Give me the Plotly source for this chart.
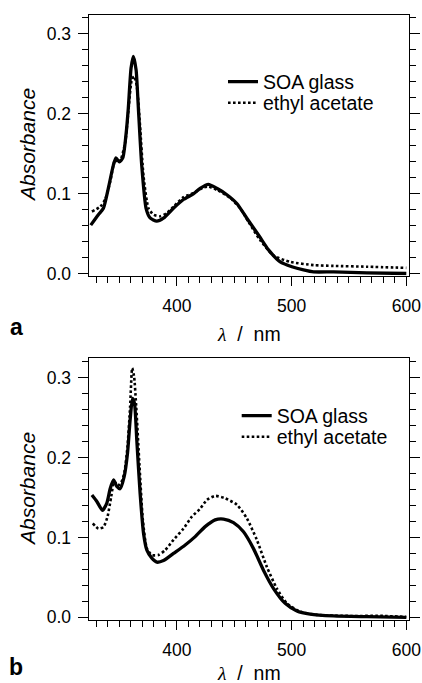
import plotly.graph_objects as go

# ---- Panel a data ----
a_soa_x = [325, 331.6, 336, 340.3, 344.7, 347, 349.9, 352.9, 355.7, 357.7, 360.1, 362.1, 364.5,
           366.5, 369.4, 373.2, 376.7, 382.5, 388.3, 397, 405.7, 414.4, 420.3, 427.5, 434.8,
           443.6, 452.3, 461, 471.9, 479.9, 490.1, 500.3, 510.4, 519.2, 536.6, 565.7, 600]
a_soa_y = [0.061, 0.074, 0.082, 0.107, 0.136, 0.145, 0.140, 0.145, 0.174, 0.207, 0.257, 0.272, 0.255,
           0.207, 0.136, 0.082, 0.070, 0.066, 0.0696, 0.082, 0.093, 0.100, 0.107, 0.112, 0.107,
           0.099, 0.088, 0.0696, 0.047, 0.030, 0.015, 0.009, 0.005, 0.0025, 0.0025, 0.0013, 0.0005]

a_ea_x = [326, 333.2, 337.5, 341.9, 346.3, 349.2, 351.2, 355, 357.9, 360.8, 362.8, 365.1, 368,
          371, 375.3, 379.7, 385.5, 391.3, 397.1, 405.8, 414.5, 423.2, 427.6, 434.9, 446.5,
          455.2, 462.5, 472.7, 484.3, 498.8, 519.2, 536.6, 565.7, 600]
a_ea_y = [0.078, 0.084, 0.093, 0.115, 0.143, 0.139, 0.143, 0.164, 0.206, 0.243, 0.247, 0.235, 0.184,
          0.122, 0.082, 0.074, 0.072, 0.076, 0.084, 0.096, 0.101, 0.108, 0.109, 0.105, 0.095,
          0.082, 0.065, 0.042, 0.023, 0.015, 0.011, 0.010, 0.009, 0.0075]

# ---- Panel b data ----
b_soa_x = [326, 330.3, 335.2, 339, 341.9, 344.8, 347.7, 350.6, 354.1, 357, 359.3, 361.4, 363.1,
           365.1, 368, 371, 373.9, 378.2, 382.6, 388.4, 397.1, 407.3, 416, 424.7, 433.4,
           440.7, 449.4, 458.1, 466.8, 475.5, 484.3, 494.4, 504.6, 516.2, 536.6, 565.7, 600]
b_soa_y = [0.153, 0.145, 0.134, 0.143, 0.161, 0.172, 0.164, 0.161, 0.176, 0.205, 0.247, 0.274, 0.268,
           0.222, 0.155, 0.105, 0.084, 0.074, 0.069, 0.071, 0.080, 0.0905, 0.101, 0.1135, 0.122,
           0.123, 0.1185, 0.107, 0.086, 0.059, 0.036, 0.0175, 0.008, 0.004, 0.0017, 0.0008, 0.0]

b_ea_x = [326.8, 331.7, 336.1, 339.6, 342.8, 345.4, 347.7, 350.6, 354.1, 357, 359.3, 361.1, 362.8,
          364.6, 367.5, 370.4, 373.9, 378.2, 384, 389.8, 397.1, 405.8, 413.1, 420.4, 426.2,
          433.4, 442.1, 452.3, 461, 469.7, 478.5, 487.2, 495.9, 507.5, 522, 551, 580, 600]
b_ea_y = [0.1176, 0.111, 0.113, 0.126, 0.151, 0.170, 0.167, 0.166, 0.180, 0.2135, 0.264, 0.312, 0.301,
          0.264, 0.189, 0.122, 0.086, 0.078, 0.078, 0.084, 0.097, 0.111, 0.126, 0.136, 0.147,
          0.152, 0.149, 0.141, 0.124, 0.097, 0.063, 0.036, 0.0175, 0.007, 0.003, 0.0017, 0.0017, 0.0004]

series_names = ["SOA glass", "ethyl acetate"]
x_title = "<i><span style='font-family:Liberation Serif'>λ</span></i>\u00a0\u00a0/\u00a0\u00a0nm"
y_title = "<i>Absorbance</i>"
panel_labels = ["a", "b"]

W, H = 422, 683
FONT = "Liberation Sans, Arial, sans-serif"

fig = go.Figure()

solid = dict(color="black", width=3.3)
dotted = dict(color="black", width=2.6, dash="2.6px,2.4px")

fig.add_trace(go.Scatter(x=a_soa_x, y=a_soa_y, mode="lines", name=series_names[0],
                         line=dict(**solid, shape="spline", smoothing=0.6), xaxis="x", yaxis="y",
                         legend="legend"))
fig.add_trace(go.Scatter(x=a_ea_x, y=a_ea_y, mode="lines", name=series_names[1],
                         line=dict(**dotted, shape="spline", smoothing=0.6), xaxis="x", yaxis="y",
                         legend="legend2"))
fig.add_trace(go.Scatter(x=b_soa_x, y=b_soa_y, mode="lines", name=series_names[0],
                         line=dict(**solid, shape="spline", smoothing=0.6), xaxis="x2", yaxis="y2",
                         legend="legend3"))
fig.add_trace(go.Scatter(x=b_ea_x, y=b_ea_y, mode="lines", name=series_names[1],
                         line=dict(**dotted, shape="spline", smoothing=0.6), xaxis="x2", yaxis="y2",
                         legend="legend4"))

def px_x(p):
    return p / W

def px_y(p):
    return 1 - p / H

xdom = [px_x(88.7), px_x(409.3)]
xr = [323.2, 602.6]

common_x = dict(range=xr, domain=xdom, showgrid=False, zeroline=False, showline=True,
                linecolor="black", linewidth=1.3, mirror=True, ticks="outside", ticklen=9,
                tickwidth=1.3, tickcolor="black", dtick=100, tick0=0, ticklabelstandoff=5,
                tickfont=dict(family=FONT, size=17.5, color="black"),
                minor=dict(dtick=10, ticks="outside", ticklen=6, tickwidth=1.3, tickcolor="black",
                           showgrid=False),
                automargin=False, fixedrange=True)
common_y = dict(showgrid=False, zeroline=False, showline=True, linecolor="black", linewidth=1.3,
                mirror="ticks", ticks="outside", ticklen=10, tickwidth=1.3, tickcolor="black",
                dtick=0.1, tick0=0, tickformat=".1f", ticklabelstandoff=3,
                tickfont=dict(family=FONT, size=17.5, color="black"),
                minor=dict(dtick=0.02, ticks="outside", ticklen=6, tickwidth=1.3, tickcolor="black",
                           showgrid=False),
                automargin=False, fixedrange=True)

def leg(xp, yp):
    return dict(x=px_x(xp), y=px_y(yp), xanchor="left", yanchor="middle",
                bgcolor="rgba(0,0,0,0)", borderwidth=0,
                font=dict(family=FONT, size=19.5, color="black"))

fig.update_layout(
    width=W, height=H,
    margin=dict(l=0, r=0, t=0, b=0),
    paper_bgcolor="white", plot_bgcolor="white",
    font=dict(family=FONT, color="black"),
    xaxis=dict(**common_x, anchor="y"),
    yaxis=dict(**common_y, anchor="x", range=[-0.002, 0.324],
               domain=[px_y(275.5), px_y(14.7)]),
    xaxis2=dict(**common_x, anchor="y2"),
    yaxis2=dict(**common_y, anchor="x2", range=[-0.0034, 0.3243],
                domain=[px_y(620), px_y(358.3)]),
    legend=leg(223, 82),
    legend2=leg(223, 103),
    legend3=leg(236.7, 416),
    legend4=leg(236.7, 437),
    showlegend=True,
)

annos = []
for (ymid_plot, xtitle_y, lab_y, lab) in [(145, 334, 326.5, panel_labels[0]),
                                           (489, 672.5, 667, panel_labels[1])]:
    annos.append(dict(text=y_title, x=px_x(27), y=px_y(ymid_plot), xref="paper", yref="paper",
                      xanchor="center", yanchor="middle", textangle=-90, showarrow=False,
                      font=dict(family=FONT, size=21, color="black")))
    annos.append(dict(text=x_title, x=px_x(249), y=px_y(xtitle_y), xref="paper", yref="paper",
                      xanchor="center", yanchor="middle", showarrow=False,
                      font=dict(family=FONT, size=19.5, color="black")))
    annos.append(dict(text="<b>" + lab + "</b>", x=px_x(16), y=px_y(lab_y), xref="paper",
                      yref="paper", xanchor="center", yanchor="middle", showarrow=False,
                      font=dict(family=FONT, size=23, color="black")))
fig.update_layout(annotations=annos)

fig.write_html("out.html")
